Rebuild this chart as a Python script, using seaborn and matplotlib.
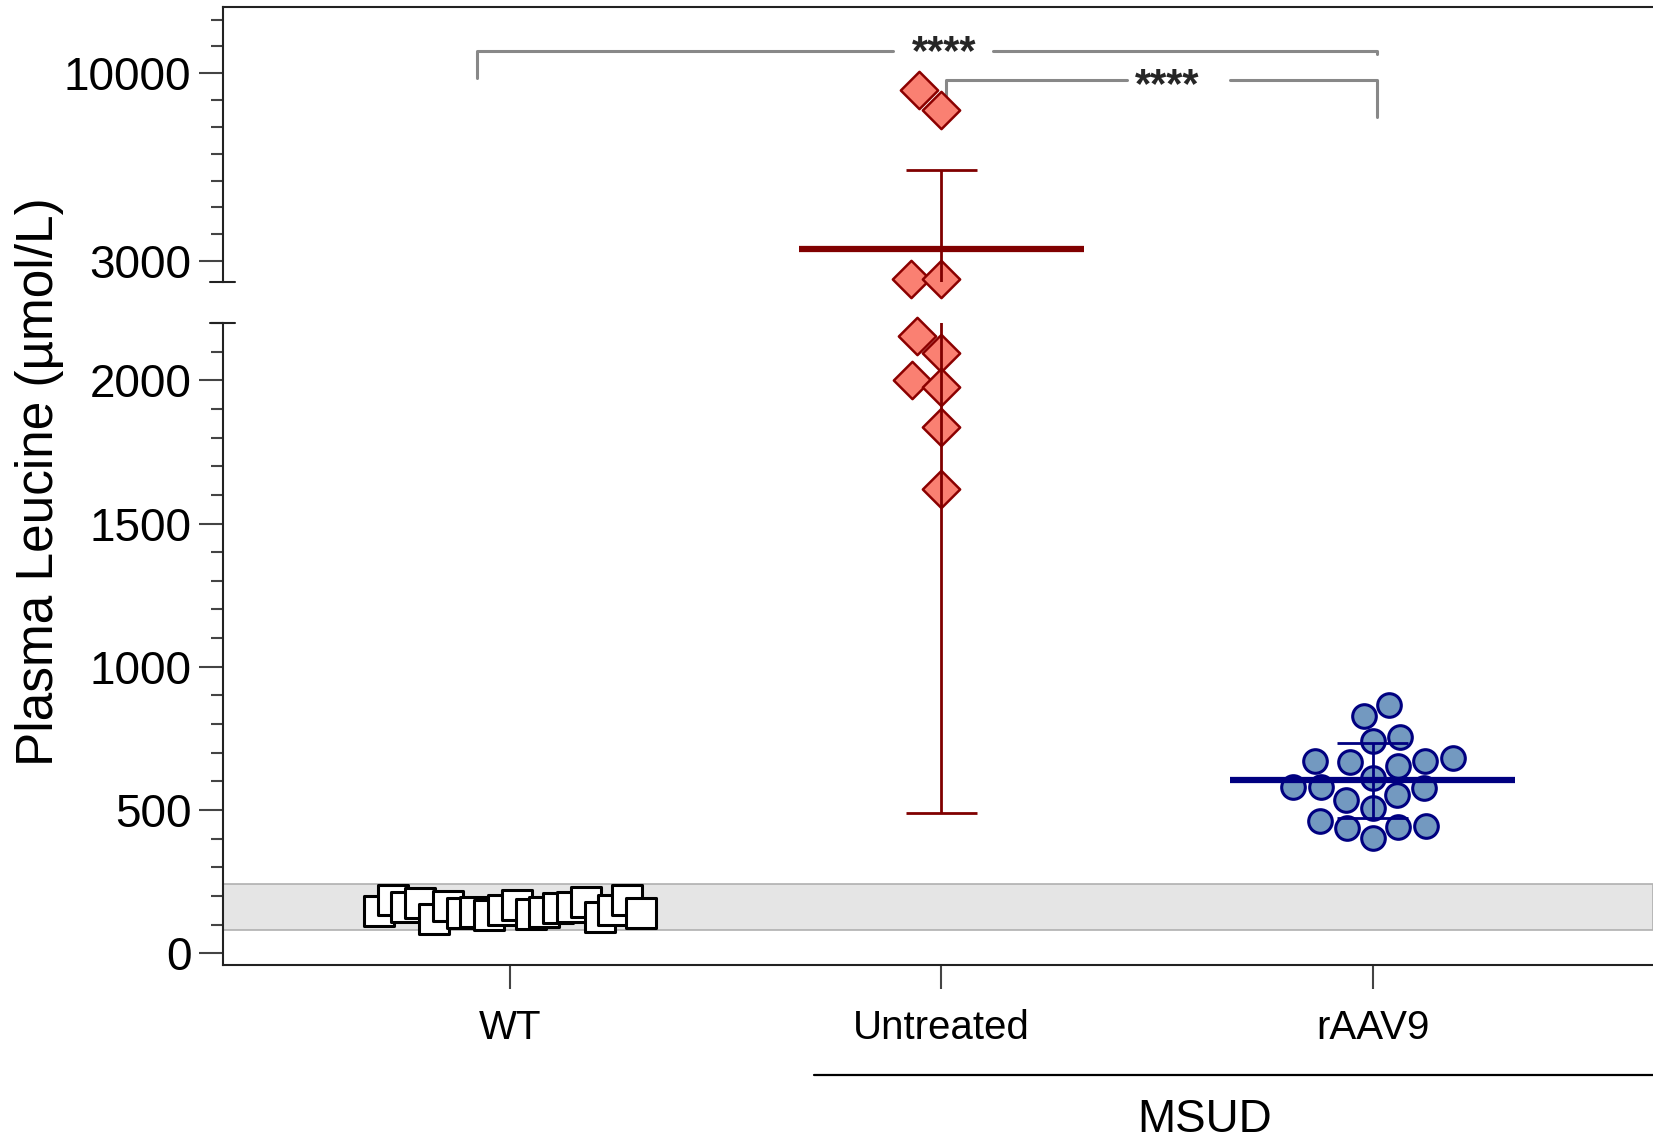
import numpy as np
import pandas as pd
import matplotlib
matplotlib.use('Agg')
import matplotlib.pyplot as plt
import seaborn as sns
from matplotlib.ticker import MultipleLocator, StrMethodFormatter
from matplotlib.lines import Line2D
from matplotlib.transforms import Affine2D

# values (umol/L), WT listed left to right
groups = ['WT', 'Untreated', 'rAAV9']
wt_leu = [149, 186, 160, 174, 119, 165, 140, 145, 134, 151,
          169, 137, 145, 159, 163, 178, 128, 151, 186, 142]
untreated_leu = [9370, 8640, 2340, 2340, 2156, 2094, 2002, 1976, 1836, 1620]
raav9_leu = [741, 653, 535, 437, 612, 508, 829, 681, 579, 441, 867,
             756, 667, 581, 463, 670, 577, 403, 670, 552, 445]
normal_range = [80, 240]
sig_labels = ['****', '****']

# axis segments (broken y axis)
lower_lim = (-41, 2200)
upper_lim = (2228, 12460)

df = pd.DataFrame({
    'group': ['WT'] * len(wt_leu) + ['Untreated'] * len(untreated_leu) + ['rAAV9'] * len(raav9_leu),
    'leucine': wt_leu + untreated_leu + raav9_leu,
})
df['animal'] = df.groupby('group').cumcount().map(lambda k: f'a{k:02d}')

style = {
    'WT': dict(marker='s', size=21, edgecolor='black', linewidth=2.2),
    'Untreated': dict(marker='D', size=19, color='#fa8072', edgecolor='#8b0000', linewidth=1.8),
    'rAAV9': dict(marker='o', size=17, color='#7399c0', edgecolor='#000080', linewidth=2.2),
}
line_col = {'Untreated': '#800000', 'rAAV9': '#000080'}

sns.set_style('ticks')
plt.rcParams['font.family'] = ['Liberation Sans', 'DejaVu Sans']

W, H = 1653, 1142
fig = plt.figure(figsize=(W / 100, H / 100), dpi=100)
left = 222.7 / W
ax_hi = fig.add_axes([left, 1 - 281.7 / H, 1 - left, (281.7 - 7.3) / H])
ax_lo = fig.add_axes([left, 1 - 965 / H, 1 - left, (965 - 323) / H])

for ax, (lo, hi) in [(ax_lo, lower_lim), (ax_hi, upper_lim)]:
    if ax is ax_lo:
        part = df[df['leucine'] <= hi]
    else:
        part = df[df['leucine'] > lower_lim[1]]
    for g in groups:
        sub = part[part['group'] == g]
        if sub.empty:
            continue
        if g == 'WT':
            # one dodge slot per animal, squeezed a bit towards the WT column
            ids = list(sub['animal'])
            squeeze = Affine2D().scale(0.8, 1) + ax.transData
            sns.stripplot(data=sub, x='group', y='leucine', order=groups,
                          hue='animal', hue_order=ids, palette=['white'] * len(ids),
                          dodge=True, jitter=False, legend=False, transform=squeeze,
                          ax=ax, zorder=3, **style[g])
        else:
            n_before = len(ax.collections)
            sns.swarmplot(data=sub, x='group', y='leucine', order=groups,
                          ax=ax, zorder=3, **style[g])
            for c in ax.collections[n_before:]:
                c.set_clip_on(False)

    # mean +/- SD
    for i, g in enumerate(groups):
        if g == 'WT':
            continue
        vals = df.loc[df['group'] == g, 'leucine'].to_numpy()
        m, sd = vals.mean(), vals.std(ddof=1)
        ax.hlines(m, i - 0.33, i + 0.33, color=line_col[g], lw=4.5, zorder=5)
        ax.vlines(i, m - sd, m + sd, color=line_col[g], lw=2, zorder=5)
        ax.hlines([m - sd, m + sd], i - 0.082, i + 0.082, color=line_col[g], lw=2, zorder=5)

    ax.set_xlim(-0.666, 2.650)
    ax.set_ylim(lo, hi)
    ax.set_xlabel('')
    ax.set_ylabel('')
    ax.spines['right'].set_visible(False)
    for s in ax.spines.values():
        s.set_linewidth(1.5)
        s.set_color('#222222')
    ax.yaxis.set_major_formatter(StrMethodFormatter('{x:.0f}'))
    ax.tick_params(axis='y', which='major', length=17.5, width=1.5, color='#444444',
                   labelsize=33, labelcolor='black', pad=5)
    ax.tick_params(axis='y', which='minor', length=9, width=1.5, color='#444444')

# normal range band
ax_lo.axhspan(normal_range[0], normal_range[1], facecolor='#e5e5e5',
              edgecolor='#b0b0b0', lw=1.2, zorder=0)

ax_lo.set_yticks([0, 500, 1000, 1500, 2000])
ax_lo.yaxis.set_minor_locator(MultipleLocator(100))
ax_lo.spines['top'].set_visible(False)
ax_lo.set_xticks(range(len(groups)))
ax_lo.set_xticklabels(groups)
ax_lo.tick_params(axis='x', length=17.5, width=1.5, color='#444444', labelsize=29,
                  labelcolor='black', pad=14)

ax_hi.set_yticks([3000, 10000])
ax_hi.yaxis.set_minor_locator(MultipleLocator(1000))
ax_hi.spines['bottom'].set_visible(False)
ax_hi.tick_params(axis='x', bottom=False, labelbottom=False)

# break caps on the y axis
d = 12.5 / (W * (1 - left))
ax_hi.plot([-d, d], [0, 0], transform=ax_hi.transAxes, color='#222222', lw=1.5, clip_on=False)
ax_lo.plot([-d, d], [1, 1], transform=ax_lo.transAxes, color='#222222', lw=1.5, clip_on=False)

# significance brackets
br = '#888888'
ax_hi.plot([-0.076, -0.076, 0.889], [9836, 10843, 10843], color=br, lw=2.2, clip_on=False)
ax_hi.plot([1.121, 2.009, 2.009], [10843, 10843, 10720], color=br, lw=2.2, clip_on=False)
ax_hi.plot([1.012, 1.012, 1.430], [9004, 9750, 9750], color=br, lw=2.2, clip_on=False)
ax_hi.plot([1.670, 2.009, 2.009], [9750, 9750, 8359], color=br, lw=2.2, clip_on=False)
for (xc, yc, dy), lab in zip([(1.006, 10843, -9.5), (1.523, 9750, -12.2)], sig_labels):
    ax_hi.annotate(lab, xy=(xc, yc), xytext=(0, dy), textcoords='offset points',
                   ha='center', va='baseline', fontsize=30, fontweight='bold')

fig.text(40 / W, 1 - 482 / H, 'Plasma Leucine (µmol/L)', rotation=90,
         ha='center', va='center', fontsize=37, color='black')
fig.add_artist(Line2D([814 / W, 1], [1 - 1075 / H] * 2, color='black', lw=1.6))
fig.text(1205 / W, 1 - 1119.5 / H, 'MSUD', ha='center', va='center', fontsize=33, color='black')

fig.savefig('out.png', dpi=100)
